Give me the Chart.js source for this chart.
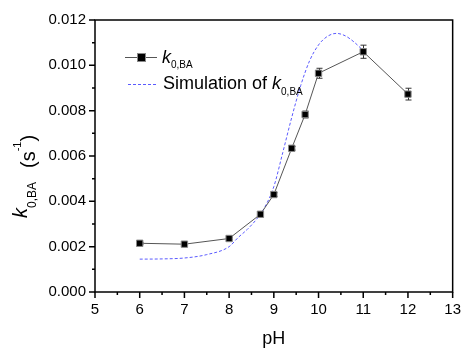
<!DOCTYPE html>
<html lang="en">
<head>
<meta charset="UTF-8">
<title>k0,BA vs pH</title>
<script src="https://cdn.jsdelivr.net/npm/chart.js@4.4.0/dist/chart.umd.min.js"></script>
<style>
  html, body { margin: 0; padding: 0; background: #fff; }
</style>
</head>
<body>
<canvas id="chart" width="470" height="349"></canvas>
<script>
// Measured rate constant vs pH
const pH = [6, 7, 8, 8.7, 9, 9.4, 9.7, 10, 11, 12];
const k0BA = [0.00215, 0.00211, 0.00236, 0.00343, 0.00430, 0.00634, 0.00783, 0.00965, 0.01060, 0.00873];
const k0Err = [0.00004, 0.00004, 0.00005, 0.00010, 0.00008, 0.00008, 0.00015, 0.00022, 0.00029, 0.00026];

// Simulated curve
const simPH = [6, 6.5, 7, 7.5, 8, 8.2, 8.4, 8.6, 8.8, 9.0, 9.2, 9.4, 9.6, 9.8, 10.0, 10.2, 10.4, 10.6, 10.8, 11.0];
const simK = [0.00145, 0.00146, 0.00150, 0.00165, 0.00200, 0.00240, 0.00275, 0.00318, 0.00375, 0.00465, 0.00615, 0.00770, 0.00910, 0.01020, 0.01090, 0.01128, 0.01141, 0.01130, 0.01102, 0.01065];

// Axis ticks
const xMin = 5, xMax = 13, xStep = 1;
const yMin = 0, yMax = 0.012, yStep = 0.002;

const FONT = '"Liberation Sans", Arial, sans-serif';
const SIM_COLOR = '#5a5aff';

// draw ticks, frame, error bars, legend and axis titles by hand
const decorations = {
    id: 'decorations',
    beforeDatasetsDraw(chart) {
        const { ctx, scales: { x, y } } = chart;
        ctx.save();
        ctx.strokeStyle = '#333';
        ctx.lineWidth = 1;
        pH.forEach((v, i) => {
            const px = Math.round(x.getPixelForValue(v)) + 0.5;
            const top = y.getPixelForValue(k0BA[i] + k0Err[i]);
            const bot = y.getPixelForValue(k0BA[i] - k0Err[i]);
            ctx.beginPath();
            ctx.moveTo(px, top); ctx.lineTo(px, bot);
            ctx.moveTo(px - 3, top); ctx.lineTo(px + 3, top);
            ctx.moveTo(px - 3, bot); ctx.lineTo(px + 3, bot);
            ctx.stroke();
        });
        ctx.restore();
    },
    afterDraw(chart) {
        const { ctx, chartArea: a, scales: { x, y } } = chart;
        ctx.save();
        ctx.strokeStyle = '#000';
        ctx.lineWidth = 1.5;
        ctx.beginPath();
        // x ticks (major + minor)
        for (let v = xMin; v <= xMax + 1e-9; v += xStep / 2) {
            const px = x.getPixelForValue(v);
            const len = Math.abs(v - Math.round(v)) < 1e-9 ? 6 : 3;
            ctx.moveTo(px, a.bottom); ctx.lineTo(px, a.bottom + len);
        }
        // y ticks (major + minor)
        for (let i = 0; i <= 12; i++) {
            const py = y.getPixelForValue(i * yStep / 2);
            const len = i % 2 === 0 ? 6 : 3;
            ctx.moveTo(a.left - len, py); ctx.lineTo(a.left, py);
        }
        ctx.stroke();
        ctx.strokeRect(a.left, a.top, a.right - a.left, a.bottom - a.top);

        ctx.fillStyle = '#000';
        ctx.textBaseline = 'alphabetic';
        ctx.textAlign = 'left';

        // legend: measured
        ctx.strokeStyle = '#555';
        ctx.lineWidth = 1;
        ctx.beginPath();
        ctx.moveTo(125, 57.5); ctx.lineTo(157, 57.5);
        ctx.stroke();
        ctx.fillStyle = '#000';
        ctx.strokeStyle = '#888';
        ctx.fillRect(138, 54, 7, 7);
        ctx.strokeRect(137.5, 53.5, 8, 8);
        ctx.fillStyle = '#000';
        ctx.font = 'italic 18px ' + FONT;
        ctx.fillText('k', 162, 63);
        let w = ctx.measureText('k').width;
        ctx.font = '10px ' + FONT;
        ctx.fillText('0,BA', 162 + w, 68);

        // legend: simulation
        ctx.strokeStyle = SIM_COLOR;
        ctx.setLineDash([3, 2]);
        ctx.beginPath();
        ctx.moveTo(128, 84.5); ctx.lineTo(157, 84.5);
        ctx.stroke();
        ctx.setLineDash([]);
        ctx.font = '18px ' + FONT;
        ctx.fillText('Simulation of ', 163, 89);
        let sx = 163 + ctx.measureText('Simulation of ').width;
        ctx.font = 'italic 18px ' + FONT;
        ctx.fillText('k', sx, 89);
        sx += ctx.measureText('k').width;
        ctx.font = '10px ' + FONT;
        ctx.fillText('0,BA', sx, 95);

        // x title
        ctx.textAlign = 'center';
        ctx.font = '18px ' + FONT;
        ctx.fillText('pH', (a.left + a.right) / 2, 344);

        // y title (rotated)
        ctx.save();
        ctx.translate(27, 218);
        ctx.rotate(-Math.PI / 2);
        ctx.textAlign = 'left';
        ctx.font = 'italic 20px ' + FONT;
        ctx.fillText('k', 0, 0);
        let tx = ctx.measureText('k').width;
        ctx.font = '12px ' + FONT;
        ctx.fillText('0,BA', tx, 9);
        tx += ctx.measureText('0,BA').width + 14;
        ctx.font = '20px ' + FONT;
        ctx.fillText('(s', tx, 8);
        tx += ctx.measureText('(s').width;
        ctx.font = '11px ' + FONT;
        ctx.fillText('-1', tx, -6);
        tx += ctx.measureText('-1').width;
        ctx.font = '20px ' + FONT;
        ctx.fillText(')', tx, 8);
        ctx.restore();

        ctx.restore();
    }
};

new Chart(document.getElementById('chart'), {
    type: 'line',
    data: {
        datasets: [
            {
                label: 'k0,BA',
                data: pH.map((v, i) => ({ x: v, y: k0BA[i] })),
                borderColor: '#555',
                borderWidth: 1,
                pointStyle: 'rect',
                pointRadius: 4.5,
                pointBackgroundColor: '#000',
                pointBorderColor: '#888',
                pointBorderWidth: 1,
                tension: 0,
                order: 0
            },
            {
                label: 'Simulation of k0,BA',
                data: simPH.map((v, i) => ({ x: v, y: simK[i] })),
                borderColor: SIM_COLOR,
                borderWidth: 1,
                borderDash: [3, 2],
                pointRadius: 0,
                cubicInterpolationMode: 'monotone',
                order: 1
            }
        ]
    },
    options: {
        responsive: false,
        animation: false,
        devicePixelRatio: 1,
        layout: { padding: { left: 0, top: 20, right: 11, bottom: 0 } },
        plugins: {
            legend: { display: false },
            tooltip: { enabled: false }
        },
        scales: {
            x: {
                type: 'linear',
                min: xMin,
                max: xMax,
                afterFit: s => { s.height = 57; },
                grid: { display: false, drawTicks: false },
                border: { display: false },
                ticks: {
                    stepSize: xStep,
                    padding: 9,
                    color: '#000',
                    font: { family: FONT, size: 15 },
                    maxRotation: 0
                }
            },
            y: {
                min: yMin,
                max: yMax,
                afterFit: s => { s.width = 95; },
                grid: { display: false, drawTicks: false },
                border: { display: false },
                ticks: {
                    stepSize: yStep,
                    padding: 9,
                    color: '#000',
                    font: { family: FONT, size: 15 },
                    callback: v => v.toFixed(3)
                }
            }
        }
    },
    plugins: [decorations]
});
</script>
</body>
</html>
